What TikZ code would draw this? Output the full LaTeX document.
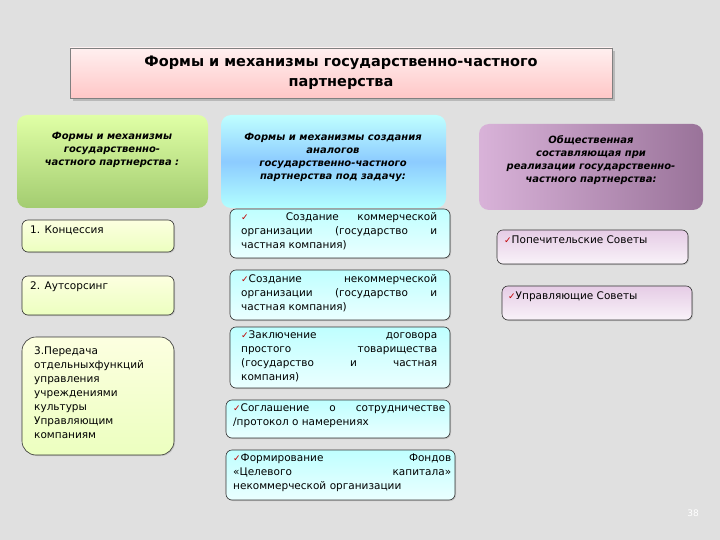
\documentclass[tikz,border=0pt]{standalone}
\usepackage{fontspec}
\setmainfont{DejaVu Sans}
\newfontfamily\symf{DejaVu Sans}
\usetikzlibrary{shadows}
\newcommand{\ck}{{\symf\color{red!75!black}\small ✓}}
\tikzset{
 x=1pt,y=-1pt,
 box/.style={draw=black!80,rounded corners=6pt,line width=0.6pt,drop shadow={opacity=0.3,shadow xshift=1pt,shadow yshift=-1pt}},
 gbox/.style={box,top color=green!8!yellow!12!white,bottom color=green!30!yellow!25!white},
 bbox/.style={box,top color=cyan!25!white,bottom color=cyan!8!white},
 pbox/.style={box,top color=violet!20!white,bottom color=violet!5!white},
 txt/.style={font=\fontsize{10.5}{14}\selectfont,inner sep=0pt,anchor=north west},
 hd/.style={font=\fontsize{10}{13}\selectfont\bfseries\itshape,align=center,inner sep=0pt}
}
\begin{document}
\begin{tikzpicture}
\fill[black!12] (0,0) rectangle (720,540);
\useasboundingbox (0,0) rectangle (720,540);
% title
\shade[top color=red!6,bottom color=red!22,draw=black!50,drop shadow={opacity=0.4}] (70,48) rectangle (612,98);
\node[font=\fontsize{14.5}{20}\selectfont\bfseries,align=center] (title) at (341,73) {Формы и механизмы государственно-частного\\партнерства};
% headers
\shade[rounded corners=10pt,top color=green!35!yellow!35!white,bottom color=green!45!yellow!45!white!80!black] (17,115) rectangle (208,208);
\node[hd] (h1) at (112,150) {Формы и механизмы\\государственно-\\частного партнерства :};
\shade[rounded corners=10pt,top color=cyan!25!white,bottom color=cyan!30!white,middle color=cyan!55!blue!45!white] (221,115) rectangle (446,208);
\node[hd] (h2) at (333,157) {Формы и механизмы создания\\аналогов\\государственно-частного\\партнерства под задачу:};
\shade[rounded corners=10pt,left color=violet!30!white,right color=violet!55!black!55!white] (479,124) rectangle (703,210);
\node[hd] (h3) at (591,160) {Общественная\\составляющая при\\реализации государственно-\\частного партнерства:};
% green column
\path[gbox] (22,220) rectangle (174,252);
\node[txt] (g1) at (30,226) {1. Концессия};
\path[gbox] (22,276) rectangle (174,315);
\node[txt] (g2) at (30,282) {2. Аутсорсинг};
\path[gbox,rounded corners=14pt] (22,337) rectangle (174,455);
\node[txt,align=left] (g3) at (34,347) {3.Передача\\отдельныхфункций\\управления\\учреждениями\\культуры\\Управляющим\\компаниям};
% blue column
\path[bbox] (230,209) rectangle (450,258);
\node[txt,text width=196pt,align=justify] (b1) at (241,212) {\ck\ \ Создание коммерческой организации (государство и частная компания)};
\path[bbox] (230,270) rectangle (450,320);
\node[txt,text width=196pt,align=justify] (b2) at (241,274) {\ck Создание некоммерческой организации (государство и частная компания)};
\path[bbox] (230,327) rectangle (450,388);
\node[txt,text width=196pt,align=left] (b3) at (241,331) {\ck Заключение\hfill договора\\простого\hfill товарищества\\(государство\hfill и\hfill частная\\компания)};
\path[bbox] (226,400) rectangle (450,438);
\node[txt,text width=212pt,align=justify] (b4) at (233,404) {\ck Соглашение о сотрудничестве /протокол о намерениях};
\path[bbox] (226,450) rectangle (455,500);
\node[txt,text width=218pt,align=left] (b5) at (233,454) {\ck Формирование\hfill Фондов\\«Целевого\hfill капитала»\\некоммерческой организации};
% purple column
\path[pbox] (497,230) rectangle (688,264);
\node[txt] (p1) at (504,236) {\ck Попечительские Советы};
\path[pbox] (502,286) rectangle (692,320);
\node[txt] (p2) at (508,292) {\ck Управляющие Советы};
\node[font=\small,text=white] (num) at (693,513) {38};
\end{tikzpicture}
\end{document}
